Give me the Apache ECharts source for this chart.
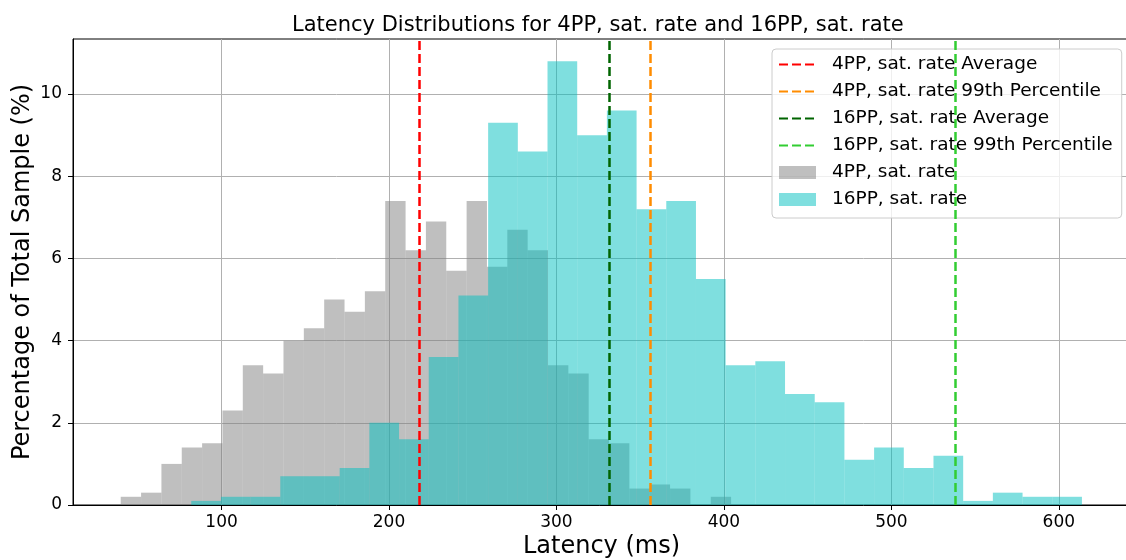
<!DOCTYPE html>
<html>
<head>
<meta charset="utf-8">
<title>Latency Distributions</title>
<script src="https://cdn.jsdelivr.net/npm/echarts@6/dist/echarts.min.js"></script>
<style>
  html, body { margin: 0; padding: 0; background: #fff; }
  #main { width: 1126px; height: 560px; }
</style>
</head>
<body>
<div id="main"></div>
<script>
// histogram bins (ms) and heights (% of total sample)
const grayStart = 39.8
const grayWidth = 12.15
const grayValues = [0.2, 0.3, 1.0, 1.4, 1.5, 2.3, 3.4, 3.2, 4.0, 4.3,
                    5.0, 4.7, 5.2, 7.4, 6.2, 6.9, 5.7, 7.4, 5.8, 6.7,
                    6.2, 3.4, 3.2, 1.6, 1.5, 0.4, 0.5, 0.4, 0.0, 0.2]

const cyanStart = 81.9
const cyanWidth = 17.73
const cyanValues = [0.1, 0.2, 0.2, 0.7, 0.7, 0.9, 2.0, 1.6, 3.6, 5.1,
                    9.3, 8.6, 10.8, 9.0, 9.6, 7.2, 7.4, 5.5, 3.4, 3.5,
                    2.7, 2.5, 1.1, 1.4, 0.9, 1.2, 0.1, 0.3, 0.2, 0.2]

// reference lines (ms)
const lineNames = ['4PP, sat. rate Average', '4PP, sat. rate 99th Percentile',
                   '16PP, sat. rate Average', '16PP, sat. rate 99th Percentile']
const lineValues = [217.9, 356.1, 331.8, 538.3]
const lineColors = ['#ff0000', '#ff8c00', '#006400', '#32cd32']

const xTicks = [100, 200, 300, 400, 500, 600]
const yTicks = [0, 2, 4, 6, 8, 10]
const xMin = 11.3, xMax = 642.5
const yMin = 0, yMax = 11.34

function toBins(start, width, values) {
  return values.map((v, i) => [start + i * width, start + (i + 1) * width, v])
}

function histSeries(name, data, color) {
  return {
    name: name,
    type: 'custom',
    data: data,
    encode: { x: [0, 1], y: 2 },
    itemStyle: { color: color, opacity: 0.5 },
    renderItem: function (params, api) {
      const p0 = api.coord([api.value(0), api.value(2)])
      const p1 = api.coord([api.value(1), 0])
      return {
        type: 'rect',
        shape: { x: p0[0], y: p0[1], width: p1[0] - p0[0], height: p1[1] - p0[1] },
        style: { fill: color, opacity: 0.5 }
      }
    },
    z: 2
  }
}

const font = 'DejaVu Sans'
const chart = echarts.init(document.getElementById('main'))

const lineSeries = lineNames.map((name, i) => ({
  name: name,
  type: 'line',
  data: [],
  symbol: 'none',
  color: lineColors[i],
  lineStyle: { color: lineColors[i], type: [9, 4], width: 2.5 },
  markLine: {
    silent: true,
    symbol: 'none',
    label: { show: false },
    lineStyle: { color: lineColors[i], type: [9, 4], width: 2.5 },
    data: [{ xAxis: lineValues[i] }]
  },
  z: 3
}))

const option = {
  animation: false,
  backgroundColor: '#fff',
  title: {
    text: 'Latency Distributions for 4PP, sat. rate and 16PP, sat. rate',
    left: 292,
    top: 15,
    padding: 0,
    textStyle: { fontFamily: font, fontSize: 21, fontWeight: 'normal', color: '#000' }
  },
  legend: {
    orient: 'vertical',
    left: 772,
    top: 49,
    padding: [2, 9, 5, 6],
    itemWidth: 37,
    itemHeight: 13,
    itemGap: 0,
    backgroundColor: 'rgba(255,255,255,0.8)',
    borderColor: '#cccccc',
    borderWidth: 1,
    borderRadius: 4,
    textStyle: { fontFamily: font, fontSize: 18.5, color: '#000', lineHeight: 27, padding: [0, 0, 0, 11] },
    data: lineNames.map(n => ({ name: n, itemStyle: { opacity: 0 } })).concat([
      { name: '4PP, sat. rate', icon: 'rect' },
      { name: '16PP, sat. rate', icon: 'rect' }
    ])
  },
  grid: {
    left: 73,
    top: 39,
    width: 1057,
    bottom: 55,
    outerBoundsMode: 'none',
    show: true,
    borderColor: '#000',
    borderWidth: 1
  },
  xAxis: {
    type: 'value',
    min: xMin,
    max: xMax,
    name: 'Latency (ms)',
    nameLocation: 'middle',
    nameGap: 30,
    nameMoveOverlap: false,
    nameTextStyle: { fontFamily: font, fontSize: 24, color: '#000' },
    axisLine: { lineStyle: { color: '#000', width: 1 } },
    axisTick: { show: true, length: 5, lineStyle: { color: '#000' }, customValues: xTicks },
    axisLabel: { fontFamily: font, fontSize: 17, color: '#000', margin: 9, customValues: xTicks },
    splitLine: { show: true, lineStyle: { color: '#b0b0b0', width: 1 } }
  },
  yAxis: {
    type: 'value',
    min: yMin,
    max: yMax,
    name: 'Percentage of Total Sample (%)',
    nameLocation: 'middle',
    nameGap: 38,
    nameMoveOverlap: false,
    nameTextStyle: { fontFamily: font, fontSize: 24, color: '#000' },
    axisLine: { show: true, lineStyle: { color: '#000', width: 1 } },
    axisTick: { show: true, length: 5, lineStyle: { color: '#000' }, customValues: yTicks },
    axisLabel: { fontFamily: font, fontSize: 17, color: '#000', margin: 11, customValues: yTicks },
    splitLine: { show: true, lineStyle: { color: '#b0b0b0', width: 1 } }
  },
  series: [
    histSeries('4PP, sat. rate', toBins(grayStart, grayWidth, grayValues), '#808080'),
    histSeries('16PP, sat. rate', toBins(cyanStart, cyanWidth, cyanValues), '#00bfbf')
  ].concat(lineSeries)
}

chart.setOption(option)
window.addEventListener('resize', () => {
  chart.resize()
})
</script>
</body>
</html>
